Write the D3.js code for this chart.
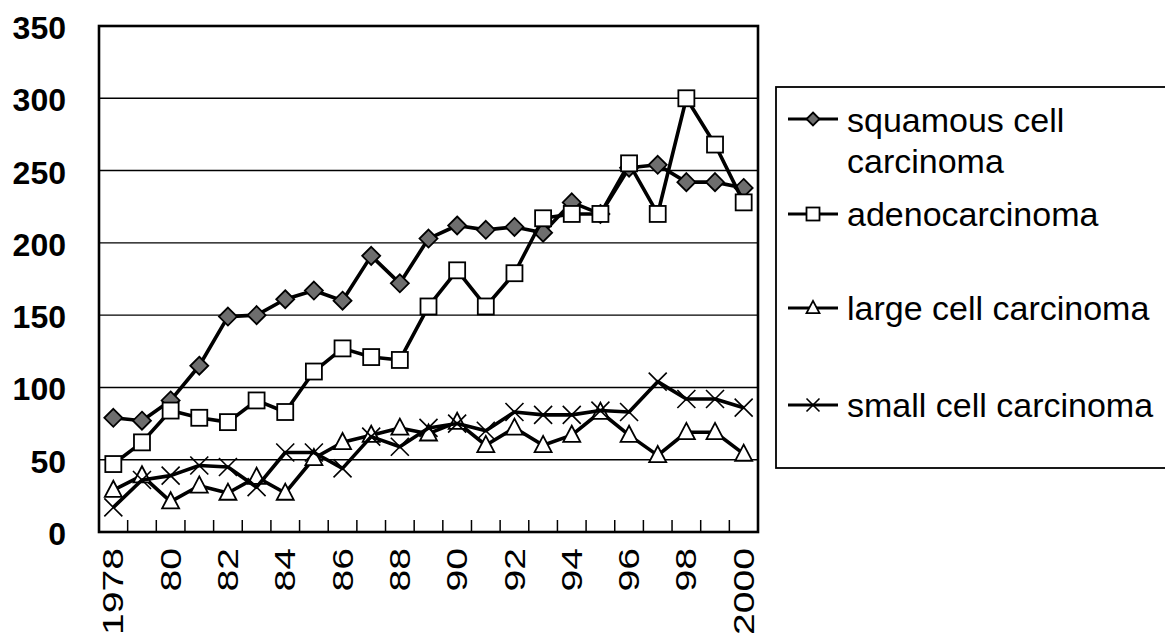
<!DOCTYPE html>
<html>
<head>
<meta charset="utf-8">
<script src="https://cdn.jsdelivr.net/npm/d3@7"></script>
<style>
  html, body { margin: 0; padding: 0; background: #fff; }
  svg { display: block; }
  .ylab { font-family: "Liberation Sans", Arial, sans-serif; font-size: 32px; font-weight: bold; }
  .xlab { font-family: "Liberation Sans", Arial, sans-serif; font-size: 29px; }
  .leg  { font-family: "Liberation Sans", Arial, sans-serif; font-size: 34px; }
</style>
</head>
<body>
<div id="chart"></div>
<script>
// data
const years = d3.range(1978, 2001);
const yTicks = [0, 50, 100, 150, 200, 250, 300, 350];
const xTickLabels = ["1978","80","82","84","86","88","90","92","94","96","98","2000"];

const squamous = [79,77,91,115,149,150,161,167,160,191,172,203,212,209,211,207,228,220,252,254,242,242,238];
const adeno    = [47,62,84,79,76,91,83,111,127,121,119,156,181,156,179,217,220,220,255,220,300,268,228];
const large    = [29,39,21,32,27,38,27,51,62,67,72,68,76,60,72,60,67,83,67,53,69,69,54];
const small    = [17,36,39,46,45,31,55,55,44,66,59,72,75,70,83,81,81,84,83,104,92,92,86];

const seriesNames = ["squamous cell carcinoma","adenocarcinoma","large cell carcinoma","small cell carcinoma"];
const seriesData  = [squamous, adeno, large, small];
const seriesMarks = ["diamond","square","triangle","cross"];

const W = 1165, H = 644;
const plot = { left: 99, right: 758, top: 26, bottom: 532 };

const svg = d3.select("#chart").append("svg").attr("width", W).attr("height", H);

const x = d3.scaleBand().domain(years).range([plot.left, plot.right]);
const y = d3.scaleLinear().domain([0, 350]).range([plot.bottom, plot.top]);
const cx = d => x(d) + x.bandwidth() / 2;

// gridlines
svg.append("g").selectAll("line")
  .data(yTicks.filter(v => v > 0 && v < 350)).join("line")
  .attr("x1", plot.left).attr("x2", plot.right)
  .attr("y1", d => y(d)).attr("y2", d => y(d))
  .attr("stroke", "#000").attr("stroke-width", 1.4);

// plot frame
svg.append("rect")
  .attr("x", plot.left).attr("y", plot.top)
  .attr("width", plot.right - plot.left).attr("height", plot.bottom - plot.top)
  .attr("fill", "none").attr("stroke", "#000").attr("stroke-width", 2.6);

// x ticks at category boundaries (pointing inward)
svg.append("g").selectAll("line")
  .data(years.slice(1)).join("line")
  .attr("x1", d => x(d)).attr("x2", d => x(d))
  .attr("y1", plot.bottom).attr("y2", plot.bottom - 12)
  .attr("stroke", "#000").attr("stroke-width", 1.5);

// y labels
svg.append("g").selectAll("text")
  .data(yTicks).join("text")
  .attr("class", "ylab")
  .attr("x", 66).attr("y", d => y(d) + 2)
  .attr("text-anchor", "end").attr("dominant-baseline", "central")
  .text(d => d);

// x labels (every other year, rotated)
const labelYears = years.filter(d => d % 2 === 0);
svg.append("g").selectAll("text")
  .data(labelYears).join("text")
  .attr("class", "xlab")
  .attr("text-anchor", "end").attr("dominant-baseline", "central")
  .attr("transform", d => `translate(${cx(d)},${plot.bottom + 16}) rotate(-90) scale(1.35,1)`)
  .text((d, i) => xTickLabels[i]);

// marker shapes
function drawMarker(g, type, px, py, s) {
  if (type === "diamond") {
    g.append("path")
      .attr("d", `M${px},${py - s}L${px + s},${py}L${px},${py + s}L${px - s},${py}Z`)
      .attr("fill", "#6e6e6e").attr("stroke", "#000").attr("stroke-width", 1.8);
  } else if (type === "square") {
    g.append("rect")
      .attr("x", px - s).attr("y", py - s).attr("width", 2 * s).attr("height", 2 * s)
      .attr("fill", "#fff").attr("stroke", "#000").attr("stroke-width", 1.8);
  } else if (type === "triangle") {
    g.append("path")
      .attr("d", `M${px},${py - s * 1.1}L${px + s},${py + s * 0.8}L${px - s},${py + s * 0.8}Z`)
      .attr("fill", "#fff").attr("stroke", "#000").attr("stroke-width", 1.8);
  } else {
    g.append("path")
      .attr("d", `M${px - s},${py - s}L${px + s},${py + s}M${px + s},${py - s}L${px - s},${py + s}`)
      .attr("stroke", "#000").attr("stroke-width", 1.6);
  }
}

const line = d3.line().x((d, i) => cx(years[i])).y(d => y(d));
const markSize = { diamond: 9, square: 8, triangle: 8.5, cross: 9 };

seriesData.forEach((vals, si) => {
  const g = svg.append("g");
  g.append("path").datum(vals)
    .attr("d", line)
    .attr("fill", "none").attr("stroke", "#000").attr("stroke-width", 3.6)
    .attr("stroke-linejoin", "round");
  vals.forEach((v, i) => drawMarker(g, seriesMarks[si], cx(years[i]), y(v), markSize[seriesMarks[si]]));
});

// legend
const legBox = { x: 776, y: 87, w: 400, h: 381 };
svg.append("rect")
  .attr("x", legBox.x).attr("y", legBox.y).attr("width", legBox.w).attr("height", legBox.h)
  .attr("fill", "#fff").attr("stroke", "#000").attr("stroke-width", 1.8);

const legRows = [
  { lines: ["squamous cell", "carcinoma"], sy: 119, base: 132 },
  { lines: ["adenocarcinoma"], sy: 214, base: 226 },
  { lines: ["large cell carcinoma"], sy: 308, base: 320 },
  { lines: ["small cell carcinoma"], sy: 405, base: 417 },
];
legRows.forEach((r, i) => {
  const g = svg.append("g");
  g.append("line").attr("x1", 788).attr("x2", 838).attr("y1", r.sy).attr("y2", r.sy)
    .attr("stroke", "#000").attr("stroke-width", 3.2);
  drawMarker(g, seriesMarks[i], 813, r.sy, 6.5);
  r.lines.forEach((t, k) => {
    g.append("text").attr("class", "leg")
      .attr("x", 847).attr("y", r.base + k * 41)
      .text(t);
  });
});
</script>
</body>
</html>
